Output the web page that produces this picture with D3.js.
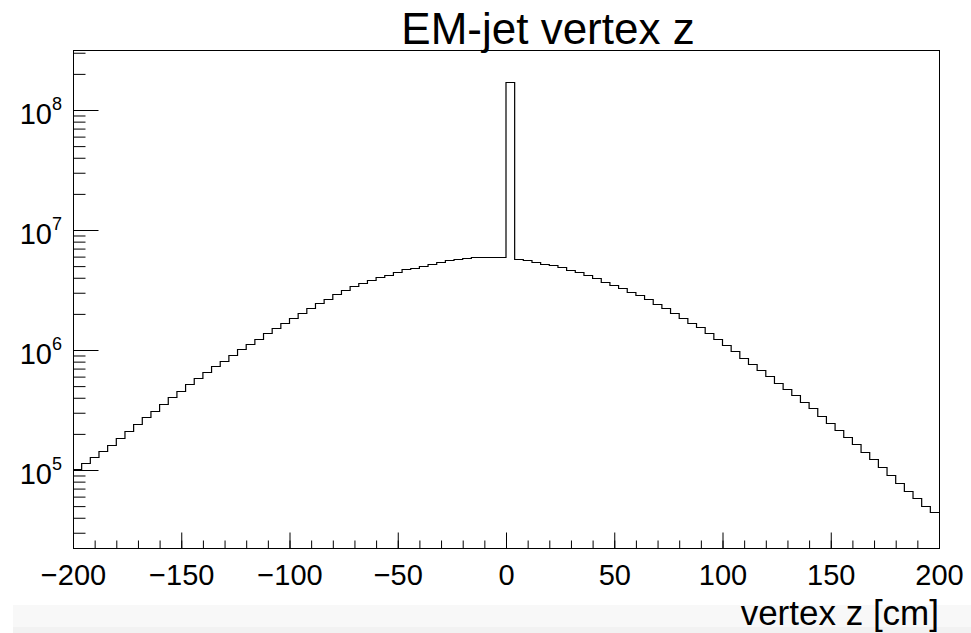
<!DOCTYPE html>
<html>
<head>
<meta charset="utf-8">
<style>
  body { margin: 0; background: #fff; }
  text { font-family: "Liberation Sans", Arial, sans-serif; fill: #000; }
</style>
</head>
<body>
<script src="https://cdnjs.cloudflare.com/ajax/libs/d3/7.8.5/d3.min.js"></script>
<svg id="chart" width="971" height="633"></svg>
<script>
// histogram: 100 bins of 4 cm from -200 to 200
const binLow = -200
const binWidth = 4
const counts = [
  1.01e5, 1.14e5, 1.28e5, 1.43e5, 1.63e5, 1.86e5, 2.11e5, 2.43e5, 2.77e5, 3.10e5,
  3.55e5, 4.04e5, 4.58e5, 5.21e5, 5.84e5, 6.56e5, 7.36e5, 8.14e5, 9.09e5, 1.01e6,
  1.12e6, 1.24e6, 1.38e6, 1.52e6, 1.69e6, 1.86e6, 2.05e6, 2.25e6, 2.47e6, 2.68e6,
  2.93e6, 3.16e6, 3.42e6, 3.64e6, 3.85e6, 4.06e6, 4.24e6, 4.49e6, 4.70e6, 4.85e6,
  5.04e6, 5.24e6, 5.44e6, 5.59e6, 5.73e6, 5.84e6, 5.91e6, 5.92e6, 5.93e6, 5.92e6,
  1.70e8, 5.77e6, 5.62e6, 5.44e6, 5.24e6, 5.08e6, 4.89e6, 4.62e6, 4.44e6, 4.22e6,
  3.96e6, 3.67e6, 3.48e6, 3.27e6, 3.03e6, 2.87e6, 2.66e6, 2.42e6, 2.23e6, 2.02e6,
  1.86e6, 1.69e6, 1.55e6, 1.39e6, 1.23e6, 1.10e6, 9.81e5, 8.63e5, 7.64e5, 6.81e5,
  6.07e5, 5.34e5, 4.70e5, 4.22e5, 3.71e5, 3.27e5, 2.82e5, 2.48e5, 2.15e5, 1.90e5,
  1.64e5, 1.41e5, 1.23e5, 1.05e5, 9.09e4, 7.84e4, 6.72e4, 5.81e4, 5.04e4, 4.49e4
]
const xMajor = [-200, -150, -100, -50, 0, 50, 100, 150, 200]
const yExponents = [5, 6, 7, 8]
const title = "EM-jet vertex z"
const xTitle = "vertex z [cm]"

const frame = {left: 73, right: 939, top: 50, bottom: 548}
const svg = d3.select("#chart")

// light strip at the bottom of the screenshot
svg.append("rect").attr("x", 13).attr("y", 605).attr("width", 958).attr("height", 22).style("fill", "#f8f8f8")
svg.append("rect").attr("x", 13).attr("y", 627).attr("width", 958).attr("height", 6).style("fill", "#f2f2f2")

const xScale = d3.scaleLinear().domain([-200, 200]).range([frame.left, frame.right])
const yScale = d3.scaleLog().domain([Math.pow(10, 4.35), Math.pow(10, 8.5)]).range([frame.bottom, frame.top])

// histogram outline
const pts = []
counts.forEach((c, i) => {
    const lo = binLow + i * binWidth
    pts.push([lo, c])
    pts.push([lo + binWidth, c])
})
const line = d3.line().x(d => xScale(d[0])).y(d => Math.round(yScale(d[1])) + 0.5)
svg.append("path")
    .attr("d", line(pts))
    .style("fill", "none")
    .style("stroke", "#000")
    .style("stroke-width", "1.2px")

// frame
svg.append("rect")
    .attr("x", frame.left + 0.5).attr("y", frame.top + 0.5)
    .attr("width", frame.right - frame.left).attr("height", frame.bottom - frame.top)
    .style("fill", "none").style("stroke", "#000").style("stroke-width", "1px")

// x axis ticks (drawn inward)
const xMinor = d3.range(-200, 201, 10)
const xAxis = d3.axisBottom(xScale).tickValues(xMinor)
    .tickSize(-8).tickSizeOuter(0).tickFormat("")
svg.append("g").attr("transform", `translate(0,${frame.bottom + 0.5})`).call(xAxis)
const xAxisMajor = d3.axisBottom(xScale).tickValues(xMajor)
    .tickSize(-16).tickSizeOuter(0).tickPadding(28)
    .tickFormat(d => d < 0 ? "\u2212" + Math.abs(d) : d)
const gx = svg.append("g").attr("transform", `translate(0,${frame.bottom + 0.5})`).call(xAxisMajor)
gx.selectAll(".domain").remove()
gx.selectAll("text").style("font-size", "29px").style("font-family", "Liberation Sans, Arial, sans-serif").attr("dy", "0.3em")
svg.selectAll(".tick line").style("stroke", "#000")
svg.selectAll(".domain").remove()

// y axis ticks
const yMinor = []
for (let e = 4; e <= 8; e++) for (let m = 2; m <= 9; m++) {
    const v = m * Math.pow(10, e)
    if (v > yScale.domain()[0] && v < yScale.domain()[1]) yMinor.push(v)
}
const yAxisMinor = d3.axisLeft(yScale).tickValues(yMinor).tickSize(-12).tickSizeOuter(0).tickFormat("")
svg.append("g").attr("transform", `translate(${frame.left + 0.5},0)`).call(yAxisMinor)
const yAxisMajor = d3.axisLeft(yScale).tickValues(yExponents.map(e => Math.pow(10, e)))
    .tickSize(-25).tickSizeOuter(0).tickFormat("")
svg.append("g").attr("transform", `translate(${frame.left + 0.5},0)`).call(yAxisMajor)
svg.selectAll(".domain").remove()
svg.selectAll(".tick line").style("stroke", "#000")

// decade labels 10^n
const labels = svg.append("g")
yExponents.forEach(e => {
    const y = yScale(Math.pow(10, e))
    const t = labels.append("text")
        .attr("x", 62).attr("y", y + 14.3)
        .attr("text-anchor", "end")
        .style("font-size", "29px")
    t.append("tspan").text("10")
    t.append("tspan").attr("dy", -14.3).style("font-size", "18px").text(e)
})

// titles
svg.append("text")
    .attr("x", 548).attr("y", 44)
    .attr("text-anchor", "middle")
    .style("font-size", "44px")
    .text(title)
svg.append("text")
    .attr("x", frame.right).attr("y", 625)
    .attr("text-anchor", "end")
    .style("font-size", "35px")
    .text(xTitle)
</script>
</body>
</html>
